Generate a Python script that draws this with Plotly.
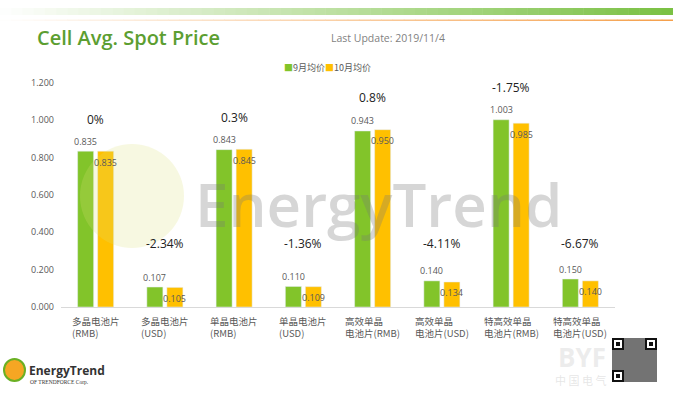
import plotly.graph_objects as go

categories = ["多晶电池片<br>(RMB)", "多晶电池片<br>(USD)", "单晶电池片<br>(RMB)", "单晶电池片<br>(USD)",
              "高效单晶<br>电池片(RMB)", "高效单晶<br>电池片(USD)", "特高效单晶<br>电池片(RMB)", "特高效单晶<br>电池片(USD)"]
cat_ids = ["c1", "c2", "c3", "c4", "c5", "c6", "c7", "c8"]
sep_price = [0.835, 0.107, 0.843, 0.110, 0.943, 0.140, 1.003, 0.150]
oct_price = [0.835, 0.105, 0.845, 0.109, 0.950, 0.134, 0.985, 0.140]
pct_change = ["0%", "-2.34%", "0.3%", "-1.36%", "0.8%", "-4.11%", "-1.75%", "-6.67%"]
series_names = ["9月均价", "10月均价"]
y_ticks = [0, 0.2, 0.4, 0.6, 0.8, 1.0, 1.2]

GREEN = "#82c42a"
GOLD = "#FFC000"
FONT = "Open Sans, Noto Sans CJK SC, sans-serif"
CJK = "Noto Sans CJK SC, sans-serif"

W, H = 673, 394
L, R, T, B = 61, 58, 83, 87
PW, PH = W - L - R, H - T - B


def px(x):
    return (x - L) / PW


def py(y):
    return (H - B - y) / PH


fig = go.Figure()
fig.add_trace(go.Bar(x=cat_ids, y=sep_price, name=series_names[0], marker_color=GREEN))
fig.add_trace(go.Bar(x=cat_ids, y=oct_price, name=series_names[1], marker_color=GOLD))

ann = []
shapes = []

# value labels
for c, s, o in zip(cat_ids, sep_price, oct_price):
    ann.append(dict(x=c, y=s, xref="x", yref="y", text=f"{s:.3f}", showarrow=False,
                    xshift=-10, yshift=10, font=dict(size=9, color="#595959", family=FONT)))
    ann.append(dict(x=c, y=o, xref="x", yref="y", text=f"{o:.3f}", showarrow=False,
                    xshift=10, yshift=-11, font=dict(size=9, color="#595959", family=FONT)))

# percent labels
for c, s, o, p in zip(cat_ids, sep_price, oct_price, pct_change):
    top = max(s, o)
    if top > 0.5:
        ann.append(dict(x=c, y=top, xref="x", yref="y", text=p, showarrow=False, yshift=32,
                        font=dict(size=12, color="#222222", family=FONT)))
    else:
        ann.append(dict(x=c, y=0.342, xref="x", yref="y", text=p, showarrow=False,
                        font=dict(size=12, color="#222222", family=FONT)))

# category labels
for c, lab in zip(cat_ids, categories):
    ann.append(dict(x=c, y=0, xref="x", yref="y", text=lab, showarrow=False, align="left",
                    yanchor="top", yshift=-5, font=dict(size=9.5, color="#595959", family=CJK)))

# title and subtitle
ann.append(dict(x=px(35), y=py(38), xref="paper", yref="paper", xanchor="left", yanchor="middle",
                text="Cell Avg. Spot Price", showarrow=False,
                font=dict(size=20, color="#5c9e31", family=FONT, weight=600)))
ann.append(dict(x=px(329), y=py(38), xref="paper", yref="paper", xanchor="left", yanchor="middle",
                text="Last Update: 2019/11/4", showarrow=False,
                font=dict(size=10.5, color="#7f7f7f", family=FONT)))
# legend
ann.append(dict(x=px(327), y=py(67), xref="paper", yref="paper", xanchor="center", yanchor="middle",
                text=f"<span style='color:{GREEN}'>■</span>{series_names[0]}"
                     f"<span style='color:{GOLD}'>■</span>{series_names[1]}",
                showarrow=False, font=dict(size=9, color="#595959", family=CJK)))

# watermark
ann.append(dict(x=px(378), y=py(204), xref="paper", yref="paper", xanchor="center", yanchor="middle",
                text="EnergyTrend", showarrow=False,
                font=dict(size=60, color="rgba(120,120,120,0.30)", family=FONT, weight=600)))
shapes.append(dict(type="circle", xref="paper", yref="paper", x0=px(80), x1=px(184), y0=py(248), y1=py(144),
                   fillcolor="rgba(220,225,120,0.22)", line=dict(width=0), layer="above"))

# bottom-left logo
shapes.append(dict(type="circle", xref="paper", yref="paper", x0=px(4), x1=px(25), y0=py(381), y1=py(359),
                   fillcolor="#f5a623", line=dict(color="#6ab023", width=2)))
ann.append(dict(x=px(27), y=py(370), xref="paper", yref="paper", xanchor="left", yanchor="middle",
                text="EnergyTrend", showarrow=False,
                font=dict(size=12, color="#333333", family=FONT, weight=700)))
ann.append(dict(x=px(28), y=py(381.5), xref="paper", yref="paper", xanchor="left", yanchor="middle",
                text="OF TRENDFORCE Corp.", showarrow=False,
                font=dict(size=5.5, color="#333333", family="Liberation Serif, serif")))

# bottom-right watermark + QR-like block
ann.append(dict(x=px(608), y=py(357), xref="paper", yref="paper", xanchor="right", yanchor="middle",
                text="BYF", showarrow=False,
                font=dict(size=26, color="rgba(200,200,200,0.35)", family=FONT, weight=700)))
ann.append(dict(x=px(608), y=py(380), xref="paper", yref="paper", xanchor="right", yanchor="middle",
                text="中 国 电 气", showarrow=False,
                font=dict(size=11, color="rgba(200,200,200,0.45)", family=CJK)))
shapes.append(dict(type="rect", xref="paper", yref="paper", x0=px(612), x1=px(657), y0=py(382), y1=py(338),
                   fillcolor="rgba(90,90,90,0.85)", line=dict(width=0)))
for (qx, qy) in [(612, 338), (645, 338), (612, 370)]:
    shapes.append(dict(type="rect", xref="paper", yref="paper", x0=px(qx), x1=px(qx + 12), y0=py(qy + 12), y1=py(qy),
                       fillcolor="#111111", line=dict(width=0)))
    shapes.append(dict(type="rect", xref="paper", yref="paper", x0=px(qx + 2), x1=px(qx + 10), y0=py(qy + 10), y1=py(qy + 2),
                       fillcolor="#ffffff", line=dict(width=0)))
    shapes.append(dict(type="rect", xref="paper", yref="paper", x0=px(qx + 4), x1=px(qx + 8), y0=py(qy + 8), y1=py(qy + 4),
                       fillcolor="#111111", line=dict(width=0)))

# top gradient bands
N = 60
for i in range(N):
    t = (i + 0.5) / N
    g = (255 + (122 - 255) * t, 255 + (193 - 255) * t, 255 + (67 - 255) * t)
    shapes.append(dict(type="rect", xref="paper", yref="paper", x0=px(W * i / N), x1=px(W * (i + 1) / N + 0.5),
                       y0=py(15), y1=py(8), fillcolor="rgb(%d,%d,%d)" % g, line=dict(width=0)))
    o = (255 + (245 - 255) * t, 255 + (160 - 255) * t, 255 + (75 - 255) * t)
    shapes.append(dict(type="rect", xref="paper", yref="paper", x0=px(W * i / N), x1=px(W * (i + 1) / N + 0.5),
                       y0=py(21), y1=py(19.5), fillcolor="rgb(%d,%d,%d)" % o, line=dict(width=0)))

fig.update_layout(
    width=W, height=H,
    margin=dict(l=L, r=R, t=T, b=B),
    paper_bgcolor="white", plot_bgcolor="white",
    showlegend=False,
    barmode="group", bargap=0.422, bargroupgap=0.2,
    annotations=ann, shapes=shapes,
    xaxis=dict(showticklabels=False, showgrid=False, zeroline=False, showline=True,
               linecolor="#d9d9d9", linewidth=1, ticks=""),
    yaxis=dict(range=[0, 1.2], tickvals=y_ticks, tickformat=".3f", showgrid=False, zeroline=False,
               showline=False, ticklabelstandoff=6,
               tickfont=dict(size=9, color="#595959", family=FONT)),
)

fig.write_html("out.html", config={"displayModeBar": False},
               post_script="document.body.style.margin='0';document.body.style.overflow='hidden';")
